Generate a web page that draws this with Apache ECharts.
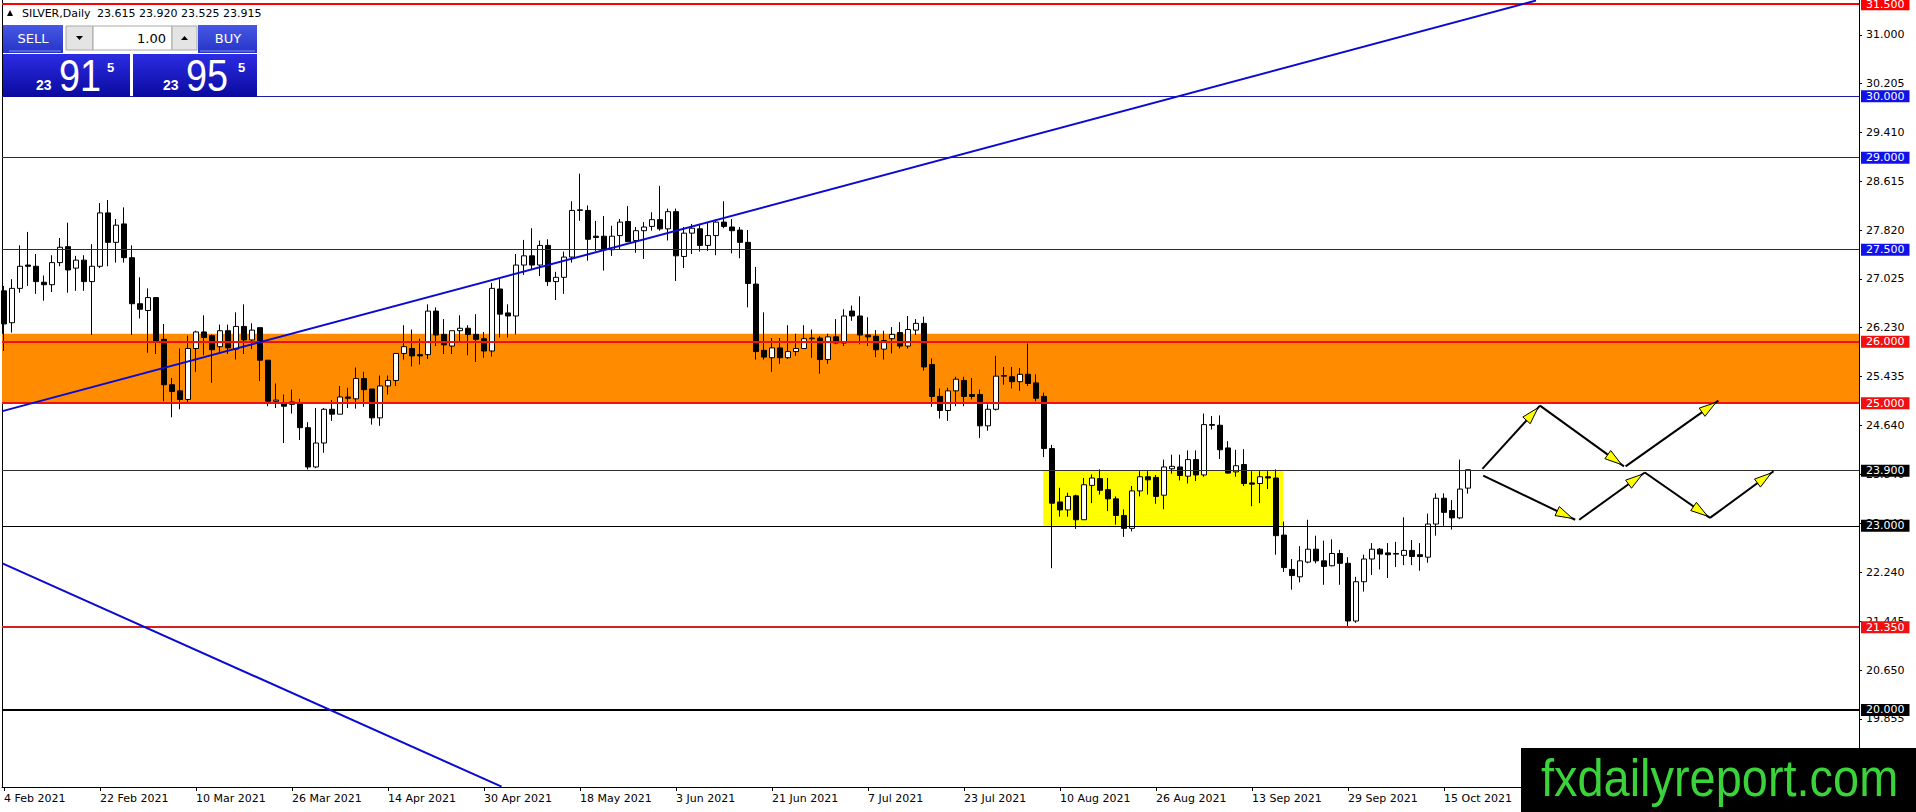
<!DOCTYPE html>
<html lang="en">
<head>
<meta charset="UTF-8">
<title>SILVER,Daily</title>
<style>
  html, body { margin: 0; padding: 0; background: #fff; }
  #main { width: 1916px; height: 812px; }
</style>
</head>
<body>
<div id="main"></div>
<script src="https://cdn.jsdelivr.net/npm/echarts@6/dist/echarts.min.js"></script>
<script>
// trading days shown on the chart (Good Friday missing, as in the feed)
var dates = [
  '4 Feb 2021','5 Feb 2021','8 Feb 2021','9 Feb 2021','10 Feb 2021','11 Feb 2021','12 Feb 2021','15 Feb 2021','16 Feb 2021','17 Feb 2021',
  '18 Feb 2021','19 Feb 2021','22 Feb 2021','23 Feb 2021','24 Feb 2021','25 Feb 2021','26 Feb 2021',
  '1 Mar 2021','2 Mar 2021','3 Mar 2021','4 Mar 2021','5 Mar 2021','8 Mar 2021','9 Mar 2021','10 Mar 2021','11 Mar 2021','12 Mar 2021',
  '15 Mar 2021','16 Mar 2021','17 Mar 2021','18 Mar 2021','19 Mar 2021','22 Mar 2021','23 Mar 2021','24 Mar 2021','25 Mar 2021','26 Mar 2021',
  '29 Mar 2021','30 Mar 2021','31 Mar 2021',
  '1 Apr 2021','5 Apr 2021','6 Apr 2021','7 Apr 2021','8 Apr 2021','9 Apr 2021','12 Apr 2021','13 Apr 2021','14 Apr 2021','15 Apr 2021',
  '16 Apr 2021','19 Apr 2021','20 Apr 2021','21 Apr 2021','22 Apr 2021','23 Apr 2021','26 Apr 2021','27 Apr 2021','28 Apr 2021','29 Apr 2021','30 Apr 2021',
  '3 May 2021','4 May 2021','5 May 2021','6 May 2021','7 May 2021','10 May 2021','11 May 2021','12 May 2021','13 May 2021','14 May 2021',
  '17 May 2021','18 May 2021','19 May 2021','20 May 2021','21 May 2021','24 May 2021','25 May 2021','26 May 2021','27 May 2021','28 May 2021','31 May 2021',
  '1 Jun 2021','2 Jun 2021','3 Jun 2021','4 Jun 2021','7 Jun 2021','8 Jun 2021','9 Jun 2021','10 Jun 2021','11 Jun 2021','14 Jun 2021',
  '15 Jun 2021','16 Jun 2021','17 Jun 2021','18 Jun 2021','21 Jun 2021','22 Jun 2021','23 Jun 2021','24 Jun 2021','25 Jun 2021','28 Jun 2021',
  '29 Jun 2021','30 Jun 2021',
  '1 Jul 2021','2 Jul 2021','5 Jul 2021','6 Jul 2021','7 Jul 2021','8 Jul 2021','9 Jul 2021','12 Jul 2021','13 Jul 2021','14 Jul 2021',
  '15 Jul 2021','16 Jul 2021','19 Jul 2021','20 Jul 2021','21 Jul 2021','22 Jul 2021','23 Jul 2021','26 Jul 2021','27 Jul 2021','28 Jul 2021',
  '29 Jul 2021','30 Jul 2021',
  '2 Aug 2021','3 Aug 2021','4 Aug 2021','5 Aug 2021','6 Aug 2021','9 Aug 2021','10 Aug 2021','11 Aug 2021','12 Aug 2021','13 Aug 2021',
  '16 Aug 2021','17 Aug 2021','18 Aug 2021','19 Aug 2021','20 Aug 2021','23 Aug 2021','24 Aug 2021','25 Aug 2021','26 Aug 2021','27 Aug 2021',
  '30 Aug 2021','31 Aug 2021',
  '1 Sep 2021','2 Sep 2021','3 Sep 2021','6 Sep 2021','7 Sep 2021','8 Sep 2021','9 Sep 2021','10 Sep 2021','13 Sep 2021','14 Sep 2021',
  '15 Sep 2021','16 Sep 2021','17 Sep 2021','20 Sep 2021','21 Sep 2021','22 Sep 2021','23 Sep 2021','24 Sep 2021','27 Sep 2021','28 Sep 2021',
  '29 Sep 2021','30 Sep 2021',
  '1 Oct 2021','4 Oct 2021','5 Oct 2021','6 Oct 2021','7 Oct 2021','8 Oct 2021','11 Oct 2021','12 Oct 2021','13 Oct 2021','14 Oct 2021',
  '15 Oct 2021','18 Oct 2021','19 Oct 2021','20 Oct 2021'
];

var open = [
  26.83,26.31,26.87,27.25,27.23,26.97,26.93,27.29,27.55,27.20,
  27.33,26.98,27.23,28.10,27.62,27.92,27.37,26.62,26.51,26.72,
  26.04,25.30,25.20,25.06,25.89,26.16,26.10,25.92,26.18,25.88,
  26.25,26.03,26.23,25.70,25.03,24.99,24.98,25.01,24.60,23.96,
  24.35,24.90,24.82,25.10,25.07,25.40,25.23,24.76,25.28,25.37,
  25.81,25.89,25.79,25.79,26.50,26.12,25.93,26.18,26.22,26.12,
  26.05,25.85,26.86,26.47,26.42,27.25,27.40,27.25,27.57,26.98,
  27.05,27.38,28.14,28.14,27.72,27.72,27.50,27.73,27.96,27.65,
  27.81,27.88,27.99,27.84,28.12,27.39,27.77,27.84,27.57,27.73,
  27.95,27.87,27.82,27.62,26.94,25.86,25.74,25.90,25.74,25.84,
  25.89,26.05,26.06,25.71,26.08,25.98,26.50,26.42,26.11,26.09,
  25.88,26.05,26.15,25.93,26.19,26.30,25.63,25.11,24.88,25.20,
  25.37,25.14,25.14,24.63,24.90,25.45,25.43,25.35,25.47,25.33,
  25.11,24.26,23.39,23.26,23.49,23.10,23.66,23.77,23.59,23.44,
  23.17,22.96,23.57,23.80,23.79,23.50,23.93,23.96,23.81,24.08,
  23.83,24.65,24.64,24.27,23.88,24.00,23.70,23.69,23.80,23.78,
  22.85,22.29,22.17,22.41,22.62,22.43,22.35,22.55,22.39,21.45,
  22.09,22.46,22.62,22.56,22.55,22.52,22.60,22.53,22.49,23.03,
  23.45,23.25,23.13,23.615
];
var high = [
  26.91,27.02,27.57,27.79,27.43,27.08,27.41,27.69,27.94,27.40,
  27.41,27.59,28.26,28.31,28.00,28.19,27.57,27.05,26.87,26.72,
  26.29,25.41,25.89,26.10,26.18,26.43,26.12,26.28,26.28,26.48,
  26.61,26.30,26.23,25.70,25.32,25.14,25.22,25.07,24.69,24.92,
  24.92,25.05,25.28,25.25,25.58,25.51,25.23,25.45,25.45,25.81,
  26.27,26.20,26.05,26.61,26.56,26.37,26.18,26.43,26.27,26.45,
  26.16,26.96,27.02,26.61,27.43,27.66,27.85,27.65,27.67,27.14,
  27.47,28.29,28.74,28.22,27.97,28.05,27.89,28.00,28.21,27.87,
  27.95,28.11,28.54,28.17,28.17,27.87,27.92,27.92,27.94,27.99,
  28.29,28.00,27.87,27.82,27.22,26.48,26.06,26.06,26.27,26.13,
  26.27,26.20,26.09,26.13,26.37,26.53,26.59,26.74,26.40,26.19,
  26.18,26.24,26.32,26.42,26.37,26.41,25.73,25.24,25.25,25.43,
  25.43,25.41,25.22,24.98,25.77,25.59,25.59,25.57,25.97,25.47,
  25.17,24.32,23.62,23.54,23.51,23.78,23.84,23.92,23.78,23.48,
  23.27,23.65,23.89,23.89,23.83,24.08,24.16,24.16,24.23,24.23,
  24.83,24.79,24.80,24.38,24.24,24.25,23.89,23.89,23.89,23.92,
  23.07,22.46,22.67,23.10,22.84,22.76,22.78,22.61,22.49,22.17,
  22.53,22.72,22.64,22.72,22.74,23.14,22.77,22.72,23.20,23.53,
  23.53,23.42,24.08,23.92
];
var low = [
  25.85,26.15,26.80,26.91,26.78,26.67,26.81,27.23,26.80,26.83,
  26.83,26.11,27.20,27.23,27.29,27.29,26.11,26.38,25.82,25.80,
  25.03,24.77,24.90,25.00,25.51,25.78,25.33,25.80,25.80,25.71,
  25.80,25.88,25.36,24.95,24.92,24.35,24.83,24.40,23.92,23.94,
  24.19,24.71,24.82,24.92,24.91,24.94,24.65,24.63,25.14,25.28,
  25.71,25.60,25.63,25.72,25.93,25.80,25.80,26.01,25.78,25.67,
  25.74,25.76,26.07,26.07,26.12,27.09,27.18,27.07,26.91,26.68,
  26.78,27.29,27.97,27.32,27.48,27.16,27.40,27.50,27.63,27.45,
  27.35,27.81,27.81,27.65,26.99,27.20,27.43,27.47,27.48,27.41,
  27.85,27.44,27.36,26.56,25.71,25.71,25.51,25.64,25.72,25.77,
  25.88,25.74,25.48,25.64,25.96,25.93,26.34,25.96,25.93,25.75,
  25.71,25.81,25.89,25.89,26.11,25.53,24.94,24.75,24.71,24.95,
  24.95,25.06,24.43,24.55,24.88,25.30,25.24,25.20,25.28,25.03,
  24.12,22.31,23.15,23.15,22.95,23.10,23.37,23.51,23.24,23.02,
  22.82,22.91,23.48,23.51,23.36,23.27,23.85,23.74,23.69,23.73,
  23.80,24.57,24.09,23.85,23.80,23.65,23.32,23.37,23.60,22.53,
  22.25,21.96,22.08,22.39,22.39,22.04,22.34,22.04,21.36,21.42,
  21.93,22.20,22.29,22.15,22.33,22.36,22.36,22.27,22.40,22.84,
  23.00,22.94,23.11,23.525
];
var close = [
  26.29,26.87,27.23,27.23,26.98,26.93,27.29,27.54,27.17,27.33,
  26.98,27.23,28.10,27.62,27.90,27.37,26.62,26.53,26.72,26.01,
  25.30,25.19,25.06,25.89,26.16,26.07,25.87,26.18,25.90,26.25,
  26.03,26.19,25.70,25.03,25.05,24.95,25.02,24.60,23.96,24.35,
  24.90,24.82,25.10,25.08,25.40,25.22,24.76,25.28,25.37,25.81,
  25.92,25.77,25.77,26.50,26.11,25.95,26.18,26.22,26.12,26.04,
  25.85,26.87,26.45,26.42,27.25,27.40,27.25,27.57,26.98,27.05,
  27.38,28.14,28.15,27.67,27.70,27.50,27.72,27.95,27.63,27.81,
  27.87,27.99,27.84,28.12,27.40,27.77,27.85,27.57,27.73,27.95,
  27.88,27.81,27.62,26.95,25.84,25.75,25.90,25.74,25.84,25.89,
  26.05,26.06,25.71,26.08,25.98,26.42,26.42,26.11,26.08,25.87,
  26.02,26.12,25.93,26.20,26.30,25.59,25.11,24.88,25.20,25.39,
  25.11,25.11,24.63,24.90,25.44,25.44,25.35,25.47,25.32,25.08,
  24.26,23.37,23.26,23.48,23.10,23.67,23.78,23.58,23.44,23.17,
  22.96,23.57,23.80,23.75,23.48,23.96,23.97,23.82,24.08,23.83,
  24.65,24.64,24.24,23.86,23.98,23.69,23.68,23.80,23.78,22.84,
  22.32,22.19,22.43,22.62,22.43,22.34,22.55,22.39,21.45,22.09,
  22.46,22.62,22.54,22.53,22.54,22.60,22.50,22.50,23.03,23.45,
  23.22,23.13,23.60,23.915
];

var xTicks = [0, 12, 24, 36, 48, 60, 72, 84, 96, 108, 120, 132, 144, 156, 168, 180];
var yTicks = [31.000, 30.205, 29.410, 28.615, 27.820, 27.025, 26.230, 25.435, 24.640, 23.840, 23.040, 22.240, 21.445, 20.650, 19.855];

var levels = [31.5, 30, 29, 27.5, 26, 25, 23.9, 23, 21.35, 20];
var orangeZone = [25.0, 26.13];
var yellowZone = [129.9, 23.9, 159.9, 23.0];
var trendLines = [
  [-0.2, 24.87, 191.5, 31.56],
  [-0.2, 22.39, 62.2, 18.75]
];
var arrows = [
  [184.8, 23.93, 192.0, 24.96],
  [192.0, 24.96, 202.5, 23.97],
  [202.7, 23.97, 214.3, 25.04],
  [184.9, 23.82, 196.4, 23.10],
  [196.9, 23.10, 205.1, 23.87],
  [205.1, 23.87, 213.25, 23.13],
  [213.25, 23.13, 221.2, 23.89]
];
var quote = ['23.615', '23.920', '23.525', '23.915'];
var bid = ['23', '91', '5'];
var ask = ['23', '95', '5'];

var FONT = "'DejaVu Sans', sans-serif";

// look of each level line: line colour, line width, price box colour
var levelLook = [
  ['#ff0000', 2, '#ff0000'],
  ['#1c1ca8', 1, '#1212e8'],
  ['#1c1ca8', 1, '#1212e8'],
  ['#1c1ca8', 1, '#1212e8'],
  ['#f01010', 2, '#f01010'],
  ['#f01010', 2, '#f01010'],
  ['#303030', 1, '#000000'],
  ['#000000', 1, '#000000'],
  ['#d42020', 2, '#f01010'],
  ['#000000', 2, '#000000']
];

var candles = dates.map(function (d, i) {
  return [i, open[i], close[i], low[i], high[i]];
});

var markLines = levels.map(function (p, k) {
  var look = levelLook[k];
  return {
    yAxis: p,
    lineStyle: { color: look[0], width: look[1], type: 'solid' },
    label: {
      show: true,
      position: 'end',
      distance: 2,
      formatter: p.toFixed(3),
      backgroundColor: look[2],
      color: '#fff',
      fontFamily: FONT,
      fontSize: 11,
      lineHeight: 11,
      padding: [1, 5, 0, 5]
    }
  };
});
trendLines.forEach(function (t) {
  markLines.push([
    { coord: [t[0], t[1]], lineStyle: { color: '#0a0ad2', width: 2, type: 'solid' }, label: { show: false } },
    { coord: [t[2], t[3]] }
  ]);
});

function grad(c1, c2) {
  return { type: 'linear', x: 0, y: 0, x2: 0, y2: 1, colorStops: [{ offset: 0, color: c1 }, { offset: 1, color: c2 }] };
}

var panel = [
  // header line
  { type: 'polygon', shape: { points: [[7, 16], [13, 16], [10, 10]] }, style: { fill: '#000' } },
  { type: 'text', x: 22, y: 13, style: { text: 'SILVER,Daily', fill: '#000', font: "11px 'DejaVu Sans'", verticalAlign: 'middle' } },
  { type: 'text', x: 97, y: 13, style: { text: quote.join(' '), fill: '#000', font: "11px 'DejaVu Sans'", verticalAlign: 'middle' } },
  // sell / buy buttons
  { type: 'rect', shape: { x: 3, y: 25, width: 60, height: 28 }, style: { fill: grad('#4658e4', '#2634c8') } },
  { type: 'line', shape: { x1: 9, y1: 51, x2: 61, y2: 51 }, style: { stroke: '#8290f0', lineWidth: 1 } },
  { type: 'text', x: 33, y: 38, style: { text: 'SELL', fill: '#fff', font: "13px 'DejaVu Sans'", align: 'center', verticalAlign: 'middle' } },
  { type: 'rect', shape: { x: 198, y: 25, width: 59, height: 28 }, style: { fill: grad('#4658e4', '#2634c8') } },
  { type: 'line', shape: { x1: 200, y1: 51, x2: 255, y2: 51 }, style: { stroke: '#8290f0', lineWidth: 1 } },
  { type: 'text', x: 228, y: 38, style: { text: 'BUY', fill: '#fff', font: "13px 'DejaVu Sans'", align: 'center', verticalAlign: 'middle' } },
  // lot spinner
  { type: 'rect', shape: { x: 66, y: 26, width: 27, height: 24 }, style: { fill: '#e4e4e4', stroke: '#a8a8a8', lineWidth: 1 } },
  { type: 'polygon', shape: { points: [[76, 36], [83, 36], [79.5, 40]] }, style: { fill: '#000' } },
  { type: 'rect', shape: { x: 93, y: 26, width: 79, height: 24 }, style: { fill: '#fff', stroke: '#a8a8a8', lineWidth: 1 } },
  { type: 'text', x: 166, y: 38, style: { text: '1.00', fill: '#000', font: "13px 'DejaVu Sans'", align: 'right', verticalAlign: 'middle' } },
  { type: 'rect', shape: { x: 172, y: 26, width: 25, height: 24 }, style: { fill: '#e4e4e4', stroke: '#a8a8a8', lineWidth: 1 } },
  { type: 'polygon', shape: { points: [[181, 40], [188, 40], [184.5, 36]] }, style: { fill: '#000' } },
  // bid / ask boxes
  { type: 'rect', shape: { x: 3, y: 54, width: 127, height: 43 }, style: { fill: grad('#2c2ce4', '#0a0a9e') } },
  { type: 'rect', shape: { x: 133, y: 54, width: 124, height: 43 }, style: { fill: grad('#2c2ce4', '#0a0a9e') } },
  { type: 'text', x: 36, y: 85, style: { text: bid[0], fill: '#fff', font: "bold 14px 'Liberation Sans'", verticalAlign: 'middle' } },
  { type: 'text', x: 59, y: 76, scaleX: 0.86, style: { text: bid[1], fill: '#fff', font: "44px 'Liberation Sans'", verticalAlign: 'middle' } },
  { type: 'text', x: 107, y: 67, style: { text: bid[2], fill: '#fff', font: "bold 13px 'Liberation Sans'", verticalAlign: 'middle' } },
  { type: 'text', x: 163, y: 85, style: { text: ask[0], fill: '#fff', font: "bold 14px 'Liberation Sans'", verticalAlign: 'middle' } },
  { type: 'text', x: 186, y: 76, scaleX: 0.86, style: { text: ask[1], fill: '#fff', font: "44px 'Liberation Sans'", verticalAlign: 'middle' } },
  { type: 'text', x: 238, y: 67, style: { text: ask[2], fill: '#fff', font: "bold 13px 'Liberation Sans'", verticalAlign: 'middle' } },
  // watermark
  { type: 'rect', shape: { x: 1521, y: 748, width: 395, height: 64 }, style: { fill: '#000' } },
  { type: 'text', x: 1541, y: 778, scaleX: 0.92, style: { text: 'fxdailyreport.com', fill: '#3ad43a', font: "51px 'Liberation Sans'", verticalAlign: 'middle' } }
];

var option = {
  backgroundColor: '#fff',
  animation: false,
  grid: { left: 2, right: 57, top: 0, bottom: 25 },
  xAxis: {
    type: 'value',
    min: -0.25,
    max: 231.875,
    axisLine: { show: true, onZero: false, lineStyle: { color: '#000', width: 1 } },
    axisTick: { show: true, customValues: xTicks, length: 4, lineStyle: { color: '#000' } },
    axisLabel: {
      customValues: xTicks,
      formatter: function (v) { return dates[Math.round(v)]; },
      align: 'left',
      margin: 6,
      color: '#000',
      fontFamily: FONT,
      fontSize: 11
    },
    splitLine: { show: false }
  },
  yAxis: [{
    type: 'value',
    position: 'right',
    min: 18.745,
    max: 31.569,
    axisLine: { show: true, onZero: false, lineStyle: { color: '#000', width: 1 } },
    axisTick: { show: true, customValues: yTicks, length: 3, lineStyle: { color: '#000' } },
    axisLabel: {
      customValues: yTicks,
      formatter: function (v) { return v.toFixed(3); },
      margin: 7,
      color: '#000',
      fontFamily: FONT,
      fontSize: 11
    },
    splitLine: { show: false }
  }, {
    type: 'value',
    position: 'left',
    min: 18.745,
    max: 31.569,
    axisLine: { show: true, onZero: false, lineStyle: { color: '#000', width: 1 } },
    axisTick: { show: false },
    axisLabel: { show: false },
    splitLine: { show: false }
  }],
  series: [{
    name: 'levels',
    type: 'line',
    data: [],
    clip: false,
    silent: true,
    markArea: {
      silent: true,
      label: { show: false },
      data: [
        [{ yAxis: orangeZone[1], itemStyle: { color: '#ff8c00', opacity: 1 } }, { yAxis: orangeZone[0] }],
        [{ coord: [yellowZone[0], yellowZone[1]], itemStyle: { color: '#ffff00', opacity: 1 } }, { coord: [yellowZone[2], yellowZone[3]] }]
      ]
    },
    markLine: {
      silent: true,
      symbol: ['none', 'none'],
      animation: false,
      data: markLines
    }
  }, {
    name: 'SILVER',
    type: 'candlestick',
    data: candles,
    encode: { x: 0, y: [1, 2, 3, 4] },
    barWidth: 5,
    z: 3,
    itemStyle: {
      color: '#ffffff',
      color0: '#000000',
      borderColor: '#000000',
      borderColor0: '#000000',
      borderColorDoji: '#000000',
      borderWidth: 1
    }
  }, {
    name: 'arrows',
    type: 'custom',
    data: arrows,
    encode: { x: [0, 2], y: [1, 3] },
    z: 6,
    silent: true,
    renderItem: function (params, api) {
      var a = api.coord([api.value(0), api.value(1)]);
      var b = api.coord([api.value(2), api.value(3)]);
      var dx = b[0] - a[0], dy = b[1] - a[1];
      var len = Math.sqrt(dx * dx + dy * dy);
      var ux = dx / len, uy = dy / len;
      var tip = [b[0] - ux * 3, b[1] - uy * 3];
      var base = [tip[0] - ux * 17, tip[1] - uy * 17];
      var nx = -uy * 5, ny = ux * 5;
      return {
        type: 'group',
        children: [{
          type: 'line',
          shape: { x1: a[0], y1: a[1], x2: b[0], y2: b[1] },
          style: { stroke: '#000', lineWidth: 2 }
        }, {
          type: 'polygon',
          shape: { points: [tip, [base[0] + nx, base[1] + ny], [base[0] - nx, base[1] - ny]] },
          style: { fill: '#ffff00', stroke: '#000', lineWidth: 1 }
        }]
      };
    }
  }],
  graphic: { elements: panel.map(function (e) { e.z = 100; return e; }) }
};

var myChart = echarts.init(document.getElementById('main'), null, { renderer: 'svg' });
myChart.setOption(option);
</script>
</body>
</html>
